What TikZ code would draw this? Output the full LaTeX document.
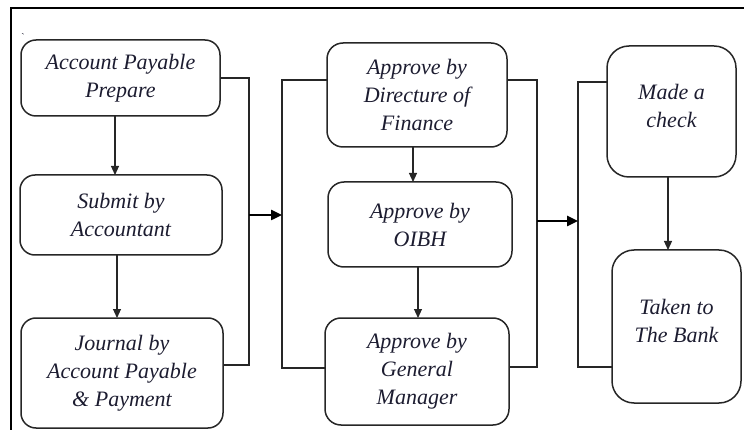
\documentclass[tikz,border=0pt]{standalone}
\usepackage{fontspec}
\setmainfont{Liberation Serif}
\usetikzlibrary{arrows.meta}
\definecolor{txt}{HTML}{1C1C30}
\definecolor{ln}{HTML}{262626}
\begin{document}
\begin{tikzpicture}[x=1pt,y=-1pt,
  every node/.style={inner sep=0pt, outer sep=0pt},
  lbl/.style={align=center, text=txt, font=\fontsize{22}{28}\selectfont\itshape},
  box/.style={lbl, draw=ln, line width=1.5pt, rounded corners=15pt},
  conn/.style={line width=1.1pt, draw=ln},
  arr/.style={conn, -{Triangle[length=9pt,width=8pt]}},
  bigarr/.style={line width=2.4pt, draw=black, -{Triangle[length=11pt,width=10pt]}},
  frameline/.style={line width=2.4pt, line join=miter}]
\useasboundingbox (0,0) rectangle (744,430);
% frame
\coordinate (f0) at (11,431);
\coordinate (f1) at (11,8);
\coordinate (f2) at (745,8);
\draw[frameline] (f0) -- (f1) -- (f2);
\node[font=\fontsize{10}{10}\selectfont, text=txt] (tick) at (23,37) {\textasciigrave};
% left column
\node[box, minimum width=199pt, minimum height=76pt] (A1) at (120.5,78) {Account Payable\\Prepare};
\node[box, minimum width=202pt, minimum height=80pt] (A2) at (121,215) {Submit by\\Accountant};
\node[box, minimum width=202pt, minimum height=110pt] (A3) at (122,373) {Journal by\\Account Payable\\\& Payment};
% middle column
\node[box, rounded corners=16pt, minimum width=180pt, minimum height=104pt] (B1) at (417,95) {Approve by\\Directure of\\Finance};
\node[box, rounded corners=16pt, minimum width=184pt, minimum height=85pt] (B2) at (420,224.5) {Approve by\\OIBH};
\node[box, rounded corners=16pt, minimum width=184pt, minimum height=107pt] (B3) at (417,371.5) {Approve by\\General\\Manager};
% right column
\node[box, rounded corners=22pt, minimum width=129pt, minimum height=131pt] (C1) at (671.5,111.5) {};
\node[lbl] (C1t) at ([yshift=6pt]C1.center) {Made a\\check};
\node[box, rounded corners=22pt, minimum width=129pt, minimum height=153pt] (C2) at (676.5,326.5) {};
\node[lbl] (C2t) at ([yshift=6pt]C2.center) {Taken to\\The Bank};
% vertical arrows
\draw[arr] ([xshift=-5.5pt]A1.south) -- ([xshift=-5.5pt]A1.south |- A2.north);
\draw[arr] ([xshift=-4pt]A2.south) -- ([xshift=-4pt]A2.south |- A3.north);
\draw[arr] ([xshift=-4pt]B1.south) -- ([xshift=-4pt]B1.south |- B2.north);
\draw[arr] ([xshift=-2pt]B2.south) -- ([xshift=-2pt]B2.south |- B3.north);
\draw[arr] ([xshift=-3.5pt]C1.south) -- ([xshift=-3.5pt]C1.south |- C2.north);
% brackets
\coordinate (jL) at (249,215);
\coordinate (mL) at (282,215);
\coordinate (mR) at (537,221);
\coordinate (rL) at (578,221);
\draw[conn] (A1.east) -| (jL) |- ([yshift=8pt]A3.east);
\draw[conn] ([yshift=15pt]B1.west) -| (mL) |- ([yshift=3.5pt]B3.west);
\draw[conn] ([yshift=15pt]B1.east) -| (mR) |- ([yshift=4.5pt]B3.east);
\draw[conn] ([yshift=29.5pt]C1.west) -| (rL) |- ([yshift=-40.5pt]C2.west);
% big arrows
\draw[bigarr] (jL) -- (mL);
\draw[bigarr] (mR) -- (rL);
\end{tikzpicture}
\end{document}
